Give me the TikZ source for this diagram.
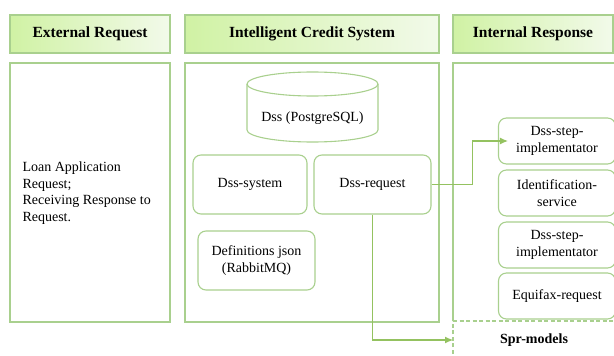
\documentclass[tikz,border=0pt]{standalone}
\usepackage{fontspec}
\setmainfont{Liberation Serif}
\usetikzlibrary{arrows.meta,positioning}
\definecolor{bdgreen}{RGB}{169,208,142}
\definecolor{lngreen}{RGB}{148,194,96}
\definecolor{hdleft}{RGB}{208,242,164}
\definecolor{hdright}{RGB}{242,250,234}
\tikzset{%
	header/.style = {draw=bdgreen, line width=1.1pt, left color=hdleft, right color=hdright, minimum height=38pt, text centered, font=\fontsize{15.5}{18}\selectfont\bfseries},
	panel/.style  = {draw=bdgreen, line width=1.1pt, rectangle, minimum height=259pt},
	rbox/.style   = {draw=bdgreen, line width=1.1pt, rectangle, rounded corners=8pt, minimum width=117pt, align=center, font=\fontsize{14}{17}\selectfont},
	conn/.style   = {draw=lngreen, line width=1.1pt, -{Latex[length=8pt,width=7pt]}},
}

\begin{document}
\begin{tikzpicture}[x=1pt,y=-1pt]
	\useasboundingbox (0,0) rectangle (614,356);
	
	\node[header, minimum width=160pt] (extH) at (90,34) {External Request};
	\node[header, minimum width=254pt] (icsH) at (312,34) {Intelligent Credit System};
	\node[header, minimum width=160pt] (intH) at (533,34) {Internal Response};
	
	\node[panel, minimum width=160pt] (extB) at (90,192.5) {};
	\node[panel, minimum width=254pt] (icsB) at (312,192.5) {};
	\draw[draw=bdgreen, line width=1.1pt] (453,321) -- (453,63) -- (618,63);
	\draw[draw=bdgreen, line width=1.1pt, dash pattern=on 4pt off 2.5pt] (453,360) -- (453,321) -- (618,321);
	
	\node[anchor=west, align=left, font=\fontsize{14}{16.7}\selectfont] (loan) at (19,193) {Loan Application\\Request;\\Receiving Response to\\Request.};
	
	% database
	\draw[draw=bdgreen, line width=1.1pt] (247,84) -- (247,130) arc[start angle=180, end angle=0, x radius=65.5, y radius=12] -- (378,84);
	\draw[draw=bdgreen, line width=1.1pt] (312.5,84) ellipse[x radius=65.5, y radius=12];
	\node[font=\fontsize{14}{17}\selectfont] (dss) at (312.5,118) {Dss (PostgreSQL)};
	
	\node[rbox, minimum width=114pt, minimum height=59pt] (dsssys) at (250,184.5) {Dss-system};
	\node[rbox, minimum height=59pt] (dssreq) at (372.5,184.5) {Dss-request};
	\node[rbox, minimum height=59pt] (defs) at (256.5,260.5) {Definitions json\\(RabbitMQ)};
	
	\node[rbox, minimum height=46pt] (step1) at (557,141) {Dss-step-\\implementator};
	\node[rbox, minimum height=46pt] (ident) at (557,193) {Identification-\\service};
	\node[rbox, minimum height=46pt] (step2) at (557,245) {Dss-step-\\implementator};
	\node[rbox, minimum height=46pt] (equi) at (557,296) {Equifax-request};
	
	\node[font=\fontsize{14}{17}\selectfont\bfseries] (spr) at (534,340) {Spr-models};
	\coordinate (sprin) at (453,340);
	
	\draw[conn] (dssreq.east) -- ++(41,0) |- ([xshift=10pt]step1.west);
	\draw[conn] (dssreq.south) |- (sprin);
	
\end{tikzpicture}
\end{document}
